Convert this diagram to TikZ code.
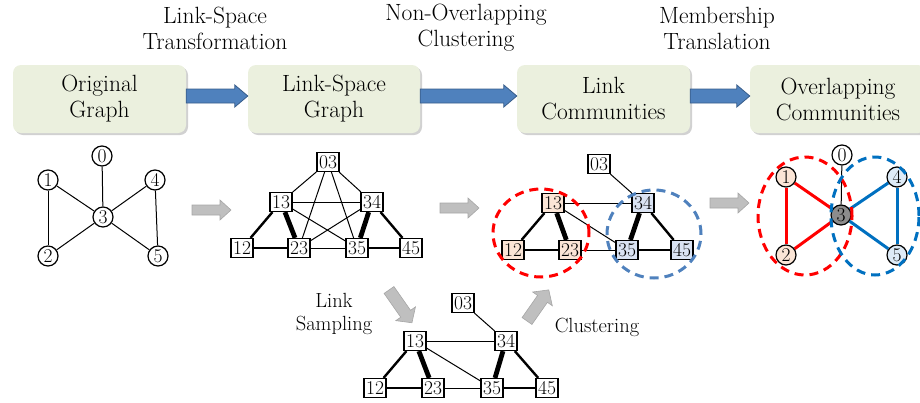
\documentclass[tikz,border=0pt]{standalone}
\usepackage{fontspec}
\usetikzlibrary{shadows,backgrounds,calc}
\definecolor{boxfill}{HTML}{EBF0DE}
\definecolor{arrowblue}{HTML}{4F81BD}
\definecolor{arrowedge}{HTML}{385D8A}
\definecolor{grayfill}{HTML}{BFBFBF}
\definecolor{grayedge}{HTML}{A6A6A6}
\definecolor{peach}{HTML}{FBE5D6}
\definecolor{ltblue}{HTML}{DAE3F3}
\definecolor{ltblueb}{HTML}{DEEBF7}
\definecolor{commred}{HTML}{FF0000}
\definecolor{commblue}{HTML}{0070C0}
\definecolor{softblue}{HTML}{4F81BD}
\definecolor{nodegray}{HTML}{8C8C8C}
\tikzset{
  stage/.style={fill=boxfill, rounded corners=8pt, minimum height=68pt,
    align=center, font=\fontsize{23.5}{26}\selectfont,
    drop shadow={shadow xshift=2pt, shadow yshift=-2pt, opacity=0.18, fill=black}},
  lbl/.style={align=center, font=\fontsize{23.5}{26}\selectfont},
  sublbl/.style={align=center, font=\fontsize{20.5}{23}\selectfont},
  ln/.style={draw, line width=1.2pt, minimum width=22pt, minimum height=19pt,
    inner sep=0.3pt, font=\fontsize{19.5}{19.5}\selectfont, fill=white},
  vn/.style={draw, circle, line width=1.2pt, minimum size=20pt, inner sep=0pt,
    font=\fontsize{19.5}{19.5}\selectfont, fill=white},
  w1/.style={line width=1pt},
  w2/.style={line width=2.4pt},
  w3/.style={line width=4.8pt},
  redge/.style={draw=commred, line width=3pt},
  bedge/.style={draw=commblue, line width=3pt},
  dashring/.style={line width=3pt, dash pattern=on 9pt off 6pt},
  grayarr/.style={draw=grayedge, fill=grayfill, line width=0.6pt},
}
\newcommand\stagearrow[2]{%
  \path[draw=arrowedge, fill=arrowblue, line width=0.8pt]
    let \p1=(#1.east), \p2=(#2.west) in
    (\x1,\y1+10pt) -- (\x2-13pt,\y1+10pt) -- (\x2-13pt,\y1+14pt) -- (\x2,\y1+3pt)
    -- (\x2-13pt,\y1-8pt) -- (\x2-13pt,\y1-4pt) -- (\x1,\y1-4pt) -- cycle;}
\newcommand\flowarrow[5]{% start, angle, length, shaft half, head half
  \begin{scope}[shift={(#1)}, rotate=#2]
    \draw[grayarr] (0,-#4) -- (#3-11,-#4) -- (#3-11,-#5) -- (#3,0)
      -- (#3-11,#5) -- (#3-11,#4) -- (0,#4) -- cycle;
  \end{scope}}
\begin{document}
\begin{tikzpicture}[x=1pt,y=-1pt]
\useasboundingbox (0,0) rectangle (920,402);

% ---- top stages ----
\node[stage, minimum width=173pt] (s1) at (99.5,99) {Original\\Graph};
\node[stage, minimum width=172pt] (s2) at (334,99) {Link-Space\\Graph};
\node[stage, minimum width=173pt] (s3) at (603.5,99) {Link\\Communities};
\node[stage, minimum width=176pt] (s4) at (838,99) {Overlapping\\Communities};
\stagearrow{s1}{s2}
\stagearrow{s2}{s3}
\stagearrow{s3}{s4}
\node[lbl] (t1) at (215,28) {Link-Space\\Transformation};
\node[lbl] (t2) at (466,28) {Non-Overlapping\\Clustering};
\node[lbl] (t3) at (717,28) {Membership\\Translation};

% ---- original graph ----
\node[vn] (o0) at (102,156) {0};
\node[vn] (o1) at (48,180) {1};
\node[vn] (o4) at (155,180) {4};
\node[vn] (o3) at (103,217) {3};
\node[vn] (o2) at (48,256) {2};
\node[vn] (o5) at (158,256) {5};
\begin{scope}[on background layer]
  \draw[w1] (o0) -- (o3);
  \draw[w1] (o1) -- (o3);
  \draw[w1] (o1) -- (o2);
  \draw[w1] (o2) -- (o3);
  \draw[w1] (o4) -- (o3);
  \draw[w1] (o4) -- (o5);
  \draw[w1] (o5) -- (o3);
\end{scope}

% ---- link-space graph ----
\node[ln] (a03) at (328,162) {03};
\node[ln] (a13) at (281,202) {13};
\node[ln] (a34) at (372,202) {34};
\node[ln] (a12) at (242,248) {12};
\node[ln] (a23) at (299,248) {23};
\node[ln] (a35) at (357,248) {35};
\node[ln] (a45) at (411,248) {45};
\begin{scope}[on background layer]
  \draw[w1] (a03) -- (a13);
  \draw[w1] (a03) -- (a34);
  \draw[w1] (a03) -- (a23);
  \draw[w1] (a03) -- (a35);
  \draw[w1] (a13) -- (a34);
  \draw[w1] (a13) -- (a35);
  \draw[w1] (a34) -- (a23);
  \draw[w1] (a23) -- (a35);
  \draw[w2] (a13) -- (a12);
  \draw[w2] (a12) -- (a23);
  \draw[w3] (a13) -- (a23);
  \draw[w3] (a34) -- (a35);
  \draw[w2] (a34) -- (a45);
  \draw[w2] (a35) -- (a45);
\end{scope}

% ---- link communities ----
\node[ln] (c03) at (599,164) {03};
\node[ln, fill=peach] (c13) at (553,203) {13};
\node[ln, fill=ltblue] (c34) at (643,203) {34};
\node[ln, fill=peach] (c12) at (513,250) {12};
\node[ln, fill=peach] (c23) at (570,250) {23};
\node[ln, fill=ltblue] (c35) at (627,250) {35};
\node[ln, fill=ltblue] (c45) at (682,250) {45};
\begin{scope}[on background layer]
  \draw[w1] (c03) -- (c34);
  \draw[w1] (c13) -- (c34);
  \draw[w1] (c13) -- (c35);
  \draw[w1] (c23) -- (c35);
  \draw[w2] (c13) -- (c12);
  \draw[w2] (c12) -- (c23);
  \draw[w3] (c13) -- (c23);
  \draw[w3] (c34) -- (c35);
  \draw[w2] (c34) -- (c45);
  \draw[w2] (c35) -- (c45);
\end{scope}
\draw[dashring, draw=commred] (541,233) ellipse [x radius=48pt, y radius=44pt];
\draw[dashring, draw=softblue] (654,234) ellipse [x radius=47pt, y radius=44pt];

% ---- overlapping communities ----
\node[vn] (f0) at (842,155) {0};
\node[vn, fill=peach] (f1) at (786,177) {1};
\node[vn, fill=ltblueb] (f4) at (897,177) {4};
\node[vn, fill=nodegray] (f3) at (841,215) {3};
\node[vn, fill=peach] (f2) at (786,255) {2};
\node[vn, fill=ltblueb] (f5) at (897,255) {5};
\begin{scope}[on background layer]
  \draw[w1] (f0) -- (f3);
  \draw[redge] (f1) -- (f2);
  \draw[redge] (f1) -- (f3);
  \draw[redge] (f2) -- (f3);
  \draw[bedge] (f4) -- (f3);
  \draw[bedge] (f5) -- (f3);
  \draw[bedge] (f4) -- (f5);
\end{scope}
\draw[dashring, draw=commred] (805,216) ellipse [x radius=47pt, y radius=59pt];
\draw[dashring, draw=commblue] (875,216) ellipse [x radius=44pt, y radius=59pt];

% ---- sampled link graph ----
\node[ln] (b03) at (463,303) {03};
\node[ln] (b13) at (415,341) {13};
\node[ln] (b34) at (506,341) {34};
\node[ln] (b12) at (375,388) {12};
\node[ln] (b23) at (433,388) {23};
\node[ln] (b35) at (492,388) {35};
\node[ln] (b45) at (547,388) {45};
\begin{scope}[on background layer]
  \draw[w1] (b03) -- (b34);
  \draw[w1] (b13) -- (b34);
  \draw[w1] (b13) -- (b35);
  \draw[w1] (b23) -- (b35);
  \draw[w2] (b13) -- (b12);
  \draw[w2] (b12) -- (b23);
  \draw[w3] (b13) -- (b23);
  \draw[w3] (b34) -- (b35);
  \draw[w2] (b34) -- (b45);
  \draw[w2] (b35) -- (b45);
\end{scope}
\node[sublbl] (ls) at (334,314) {Link\\Sampling};
\node[sublbl] (cl) at (597,327) {Clustering};

% ---- gray flow arrows ----
\coordinate (g1) at (192,210);
\coordinate (g2) at (440,208);
\coordinate (g3) at (710,203);
\coordinate (g4) at (389,290);
\coordinate (g5) at (527,321);
\flowarrow{g1}{0}{39}{5}{10}
\flowarrow{g2}{0}{39}{5}{10}
\flowarrow{g3}{0}{39}{5}{10}
\flowarrow{g4}{-55}{40}{6}{12}
\flowarrow{g5}{55}{38}{6}{12}
\end{tikzpicture}
\end{document}
